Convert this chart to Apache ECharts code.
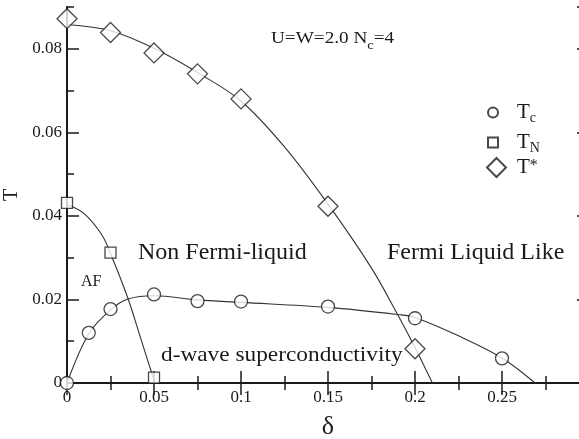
<!DOCTYPE html>
<html><head><meta charset="utf-8">
<script src="https://cdn.jsdelivr.net/npm/echarts@6/dist/echarts.min.js"></script>
<style>html,body{margin:0;padding:0;background:#fff}#c{width:579px;height:439px}</style>
</head><body><div id="c"></div>
<script>
// ---- data ----
const tcPoints = [[0,0.0],[0.0125,0.0120],[0.025,0.0177],[0.05,0.0212],[0.075,0.0196],[0.1,0.0195],[0.15,0.0183],[0.2,0.0155],[0.25,0.0059]];
const tnPoints = [[0,0.0431],[0.025,0.0312],[0.05,0.0013]];
const tstarPoints = [[0,0.0872],[0.025,0.0839],[0.05,0.0790],[0.075,0.0740],[0.1,0.0680],[0.15,0.0423],[0.2,0.0082]];
const tcCurve = [[0,0],[0.0125,0.0118],[0.025,0.0175],[0.035,0.0201],[0.05,0.0209],[0.075,0.0199],[0.1,0.0193],[0.15,0.0181],[0.19,0.0164],[0.2,0.0157],[0.225,0.0113],[0.25,0.0060],[0.269,0]];
const tnCurve = [[0,0.0428],[0.01,0.0405],[0.02,0.0355],[0.025,0.0310],[0.035,0.0203],[0.0425,0.0105],[0.0505,0]];
const tstarCurve = [[0,0.0858],[0.025,0.0843],[0.05,0.0801],[0.075,0.0743],[0.1,0.0675],[0.125,0.0565],[0.15,0.0428],[0.175,0.0275],[0.19,0.0164],[0.2,0.0085],[0.21,0]];
const seriesNames = ['Tc','TN','T*'];
const xTicks = {min:0, max:0.3, step:0.05};
const yTicks = {min:0, max:0.09, step:0.02};

const FF = 'Liberation Serif';
const ink = '#1a1a1a';
const chart = echarts.init(document.getElementById('c'));
function fmt(v){ if (Math.abs(v) < 1e-9) return '0'; if (v > 0.085 && v < 0.095) return ''; return String(+v.toFixed(3)); }
const lblStyle = {color: ink, fontFamily: FF, fontSize: 17};
const axLine = {show: true, lineStyle: {color: ink, width: 2}};
function xAx(pos, labels){
  return {type:'value', position:pos, min:xTicks.min, max:xTicks.max, interval:xTicks.step,
    axisLine: axLine, splitLine:{show:false},
    axisTick:{show:true, inside:true, length:12, lineStyle:{color:ink, width:1.5}},
    minorTick:{show:true, splitNumber:2, length:7, lineStyle:{color:ink, width:1.5}},
    axisLabel: labels ? Object.assign({show:true, margin:6, formatter:fmt, showMaxLabel:false}, lblStyle) : {show:false},
    name: labels ? 'δ' : '', nameLocation:'middle', nameGap:31,
    nameTextStyle:{color:ink, fontFamily:FF, fontSize:26}};
}
function yAx(pos, labels, minor){
  return {type:'value', position:pos, min:yTicks.min, max:yTicks.max, interval: minor ? yTicks.step/2 : yTicks.step,
    axisLine: minor ? {show:false} : axLine, splitLine:{show:false},
    axisTick:{show:true, inside:true, length: minor ? 7 : 12, lineStyle:{color:ink, width:1.5}},
    axisLabel: labels ? Object.assign({show:true, margin:5, formatter:fmt, showMaxLabel:false}, lblStyle) : {show:false},
    name: labels ? 'T' : '', nameLocation:'middle', nameGap:41, nameRotate:90,
    nameTextStyle:{color:ink, fontFamily:FF, fontSize:20}};
}
const sub = {
  t:{fontFamily:FF, fontSize:21, color:ink},
  s:{fontFamily:FF, fontSize:14, color:ink, padding:[12,0,0,0]},
  p:{fontFamily:FF, fontSize:16, color:ink, padding:[0,0,4,0]}
};
function legendFmt(n){ if(n==='Tc') return '{t|T}{s|c}'; if(n==='TN') return '{t|T}{s|N}'; return '{t|T}{p|*}'; }
function mkLegend(name, left, top, icon, w, h, pad){
  return {show:true, data:[{name:name, icon:icon}], left:left, top:top, itemWidth:w, itemHeight:h, itemGap:0,
    formatter:legendFmt, textStyle:{rich:sub, padding:[0,0,0,pad]}, selectedMode:false};
}
const mk = {color:'#fff', borderColor:ink, borderWidth:1.3};
const line = {color:'#333', width:1.1};
chart.setOption({
  animation:false,
  grid:{left:67, top:7, width:522, height:376, containLabel:false, outerBoundsMode:'none'},
  xAxis:[xAx('bottom', true), xAx('top', false)],
  yAxis:[yAx('left', true, false), yAx('left', false, true), yAx('right', false, false), yAx('right', false, true)],
  legend:[mkLegend('Tc', 482, 97, 'circle', 10, 10, 14), mkLegend('TN', 482, 127, 'rect', 10, 10, 14), mkLegend('T*', 481, 152, 'diamond', 19, 19, 6)],
  series:[
    {type:'line', data:tcCurve, smooth:0.35, showSymbol:false, lineStyle:line, silent:true, z:2},
    {type:'line', data:tnCurve, smooth:0.35, showSymbol:false, lineStyle:line, silent:true, z:2},
    {type:'line', data:tstarCurve, smooth:0.35, showSymbol:false, lineStyle:line, silent:true, z:2},
    {type:'scatter', name:'Tc', data:tcPoints, symbol:'circle', symbolSize:13, itemStyle:mk, clip:false, z:3},
    {type:'scatter', name:'TN', data:tnPoints, symbol:'rect', symbolSize:11, itemStyle:mk, clip:false, z:3},
    {type:'scatter', name:'T*', data:tstarPoints, symbol:'diamond', symbolSize:[20,20], itemStyle:mk, clip:false, z:3}
  ],
  graphic:[
    {type:'text', left:271, top:31, scaleX:1.2, style:{text:'{a|U=W=2.0 N}{b|c}{a|=4}', rich:{a:{fontFamily:FF, fontSize:16, fill:ink}, b:{fontFamily:FF, fontSize:12, fill:ink, padding:[13,0,0,0]}}}},
    {type:'text', left:138, top:241, style:{text:'Non Fermi-liquid', fontFamily:FF, fontSize:24, fill:ink}},
    {type:'text', left:387, top:241, style:{text:'Fermi Liquid Like', fontFamily:FF, fontSize:24, fill:ink}},
    {type:'text', left:81, top:274, style:{text:'AF', fontFamily:FF, fontSize:16, fill:ink}},
    {type:'text', left:161, top:344, scaleX:1.06, style:{text:'d-wave superconductivity', fontFamily:FF, fontSize:22, fill:ink}}
  ]
});
</script></body></html>
